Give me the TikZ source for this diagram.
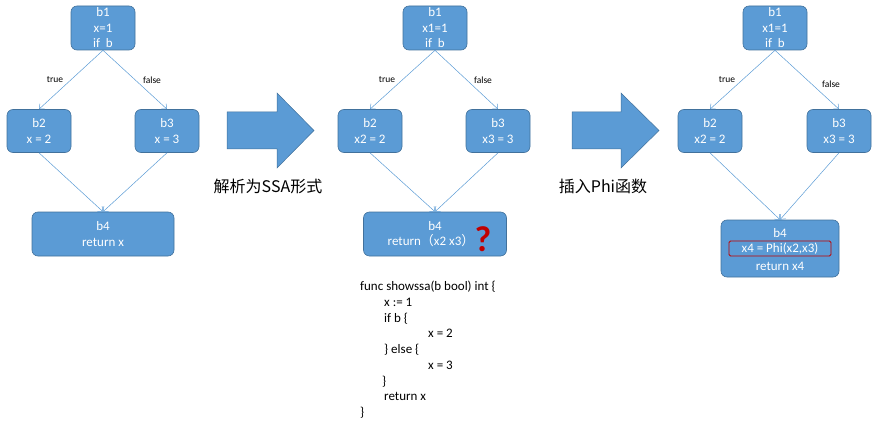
\documentclass[tikz,border=0pt]{standalone}
\usepackage{fontspec}
\setmainfont{Carlito}
\newfontfamily\cjk{Noto Sans CJK SC}
\usetikzlibrary{arrows.meta}
\definecolor{boxfill}{HTML}{5B9BD5}
\definecolor{boxline}{HTML}{41719C}
\definecolor{qred}{HTML}{C00000}
\begin{document}
\begin{tikzpicture}[x=1pt,y=-1pt,
  blk/.style={draw=boxline, fill=boxfill, rounded corners=6pt, text=white,
    font=\fontsize{13}{15.5}\selectfont, align=center, inner sep=0pt, line width=0.6pt},
  flow/.style={draw=boxfill, line width=0.5pt, -{Straight Barb[length=4pt,width=7pt]}},
  lbl/.style={font=\fontsize{9.5}{10}\selectfont, text=black},
  wtxt/.style={text=white, font=\fontsize{13}{14}\selectfont, inner sep=0pt},
  bigarrow/.style={fill=boxfill, draw=boxline, line width=0.5pt},
  captxt/.style={font=\cjk\fontsize{16}{18}\selectfont, text=black, inner sep=0pt}]
\useasboundingbox (0,0) rectangle (878,433);

% ---------- panel 1 ----------
\node[blk, minimum width=64pt, minimum height=44pt] (a1) at (103,28) {b1\\x=1\\if\ \ b};
\node[blk, minimum width=64pt, minimum height=43pt] (a2) at (39,131) {b2\\x = 2};
\node[blk, minimum width=64pt, minimum height=43pt] (a3) at (167,131) {b3\\x = 3};
\node[blk, minimum width=142pt, minimum height=44pt] (a4) at (103,234) {b4\\return x};
\draw[flow] (a1.south) -- (a2.north);
\draw[flow] (a1.south) -- (a3.north);
\draw[flow] (a2.south) -- (a4.north);
\draw[flow] (a3.south) -- (a4.north);
\node[lbl] (at) at (55,80) {true};
\node[lbl] (af) at (152,80) {false};

% ---------- big arrow 1 ----------
\draw[bigarrow] (227,112) -- (277,112) -- (277,93) -- (314,130.5) -- (277,168) -- (277,149) -- (227,149) -- cycle;
\node[captxt] (c1) at (268,186) {解析为SSA形式};

% ---------- panel 2 ----------
\node[blk, minimum width=64pt, minimum height=44pt] (b1) at (435,28) {b1\\x1=1\\if\ \ b};
\node[blk, minimum width=64pt, minimum height=43pt] (b2) at (370,131) {b2\\x2 = 2};
\node[blk, minimum width=64pt, minimum height=43pt] (b3) at (498,131) {b3\\x3 = 3};
\node[blk, minimum width=143pt, minimum height=44pt] (b4) at (435,234) {b4\\return{\cjk （}x2 x3{\cjk ）}\hspace*{8pt}};
\draw[flow] (b1.south) -- (b2.north);
\draw[flow] (b1.south) -- (b3.north);
\draw[flow] (b2.south) -- (b4.north);
\draw[flow] (b3.south) -- (b4.north);
\node[lbl] (bt) at (387,80) {true};
\node[lbl] (bf) at (483,80) {false};
\node[text=qred, font=\bfseries\fontsize{36}{36}\selectfont, inner sep=0pt] (q) at (483,239) {?};

% code
\node[anchor=north west, align=left, inner sep=0pt, text=black,
  font=\fontsize{13}{15.75}\selectfont] (code) at (360,281) {%
func showssa(b bool) int \{\\
\hspace*{24pt}x := 1\\
\hspace*{24pt}if b \{\\
\hspace*{68pt}x = 2\\
\hspace*{24pt}\} else \{\\
\hspace*{68pt}x = 3\\
\hspace*{22pt}\}\\
\hspace*{24pt}return x\\
\}};

% ---------- big arrow 2 ----------
\draw[bigarrow] (572,112) -- (621,112) -- (621,93) -- (659,130.5) -- (621,168) -- (621,149) -- (572,149) -- cycle;
\node[captxt] (c2) at (603,186) {插入Phi函数};

% ---------- panel 3 ----------
\node[blk, minimum width=64pt, minimum height=44pt] (d1) at (775,28) {b1\\x1=1\\if\ \ b};
\node[blk, minimum width=64pt, minimum height=43pt] (d2) at (710,131) {b2\\x2 = 2};
\node[blk, minimum width=64pt, minimum height=43pt] (d3) at (839,131) {b3\\x3 = 3};
\node[blk, minimum width=118pt, minimum height=57pt] (d4) at (780,248.5) {};
\draw[flow] (d1.south) -- (d2.north);
\draw[flow] (d1.south) -- (d3.north);
\draw[flow] (d2.south) -- (d4.north);
\draw[flow] (d3.south) -- (d4.north);
\node[lbl] (dt) at (727,80) {true};
\node[lbl] (df) at (831,84) {false};
\node[wtxt] (d4a) at (780,233) {b4};
\node[wtxt, draw=qred, line width=0.8pt, rounded corners=1.5pt, minimum width=102pt, minimum height=15pt] (d4b) at (780,248.5) {x4 = Phi(x2,x3)};
\node[wtxt] (d4c) at (780,266) {return x4};
\end{tikzpicture}
\end{document}
